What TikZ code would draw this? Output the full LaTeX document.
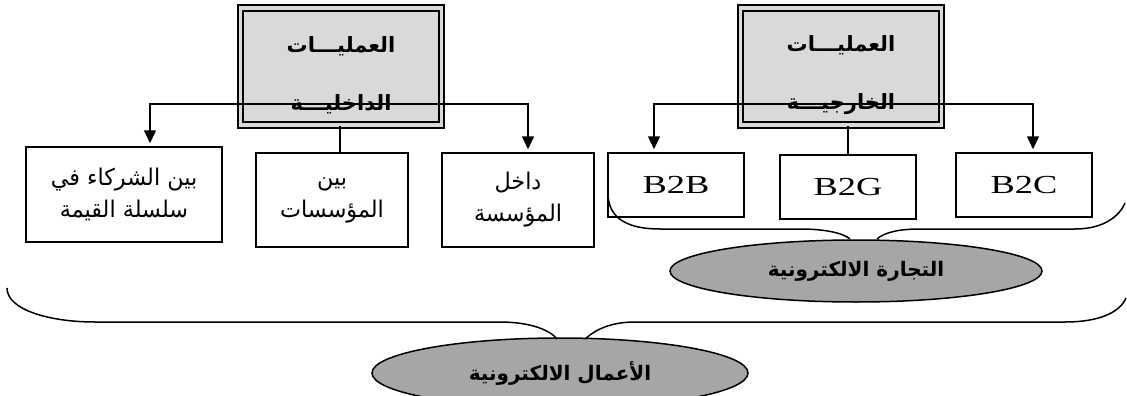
\documentclass[tikz,border=0pt]{standalone}
\usepackage{fontspec}
\setmainfont{Liberation Serif}
\newfontfamily\arabicfont[Script=Arabic,FakeStretch=0.97]{DejaVu Sans}
\newfontfamily\arabicwide[Script=Arabic,FakeStretch=1.0]{DejaVu Sans}
\newfontfamily\latinfont[FakeStretch=1.4]{Liberation Serif}
\TeXXeTstate=1
\usetikzlibrary{arrows.meta,shapes.geometric}
\definecolor{boxgray}{RGB}{217,217,217}
\definecolor{ellgray}{RGB}{166,166,166}
\tikzset{
  opsbox/.style={draw,double=boxgray,double distance=3.3pt,line width=2.2pt,fill=boxgray,
    minimum width=201pt,minimum height=117pt,inner sep=0pt,align=center,
    font=\arabicwide\bfseries\fontsize{21}{24}\selectfont},
  leafbox/.style={draw,line width=1.5pt,inner sep=0pt,align=center},
  areabox/.style={leafbox,minimum width=152pt,minimum height=94pt,
    font=\arabicfont\fontsize{23}{32}\selectfont},
  typebox/.style={leafbox,minimum width=136pt,minimum height=64pt,
    font=\latinfont\fontsize{26}{30}\selectfont},
  tag/.style={ellipse,draw,line width=1.5pt,fill=ellgray,inner sep=0pt,
    font=\arabicwide\bfseries\fontsize{20}{24}\selectfont},
  arr/.style={-{Triangle[width=12pt,length=13pt]},line width=1.5pt,shorten >=3pt},
  brace/.style={line width=1.5pt},
}
\begin{document}
\begin{tikzpicture}[x=1pt,y=-1pt]
  \useasboundingbox (0,0) rectangle (1127,396);

  % top boxes
  \node[opsbox] (int) at (341,66.5)
    {\rule{0pt}{34pt}\beginR العمليـــات\endR\\[34pt]\beginR الداخليـــة\endR};
  \node[opsbox] (ext) at (841,66.5)
    {\rule{0pt}{34pt}\beginR العمليـــات\endR\\[34pt]\beginR الخارجيـــة\endR};

  % second row
  \node[areabox,minimum width=196pt,minimum height=95pt] (partner) at (124,194.5)
    {\beginR بين الشركاء في\endR\\\beginR سلسلة القيمة\endR};
  \node[areabox] (between) at (332,200) {\beginR بين\endR\\\beginR المؤسسات\endR};
  \node[areabox] (inside) at (518,200) {\beginR داخل\endR\\\beginR المؤسسة\endR};
  \node[typebox] (b2b) at (676,185) {B2B};
  \node[typebox] (b2g) at (848,187) {B2G};
  \node[typebox] (b2c) at (1024,185) {B2C};

  % ellipses
  \node[tag,minimum width=372pt,minimum height=62pt] (ecom) at (856,271)
    {\beginR التجارة الالكترونية\endR};
  \node[tag,minimum width=376pt,minimum height=70pt] (ebus) at (560,373)
    {\beginR الأعمال الالكترونية\endR};

  % connectors
  \coordinate (intj) at (340,104);
  \coordinate (extj) at (847,104);
  \draw[arr] (intj) -| ([xshift=26pt]partner.north);
  \draw[arr] (intj) -| ([xshift=10pt]inside.north);
  \draw[line width=1.5pt] (int.south -| intj) -- (between.north -| intj);
  \draw[arr] (extj) -| ([xshift=-22pt]b2b.north);
  \draw[arr] (extj) -| ([xshift=9pt]b2c.north);
  \draw[line width=1.5pt] (ext.south -| b2g.north) -- (b2g.north);

  % braces
  \draw[brace] (608,193) .. controls (608,220) and (630,229) .. (660,229) -- (800,229)
    .. controls (825,229) and (843,233) .. (850,239);
  \draw[brace] (877,239) .. controls (885,232) and (900,229) .. (920,229) -- (1075,229)
    .. controls (1105,229) and (1120,215) .. (1125,203);
  \draw[brace] (7,288) .. controls (7,310) and (50,322) .. (95,322) -- (500,322)
    .. controls (530,322) and (550,330) .. (557,339);
  \draw[brace] (585,339) .. controls (595,330) and (610,322) .. (635,322) -- (1065,322)
    .. controls (1100,322) and (1120,312) .. (1126,298);
\end{tikzpicture}
\end{document}
